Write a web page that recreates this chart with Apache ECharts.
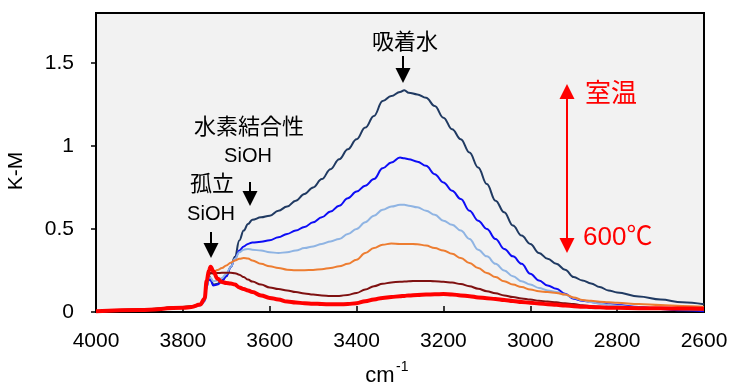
<!DOCTYPE html>
<html><head><meta charset="utf-8">
<script src="https://cdn.jsdelivr.net/npm/echarts@6/dist/echarts.min.js"></script>
<style>html,body{margin:0;padding:0;background:#fff}#c{width:731px;height:387px}</style>
</head><body><div id="c"></div>
<script>
// wavenumbers (cm-1)
const wn = [4000,3900,3800,3780,3760,3750,3745,3740,3736,3730,3720,3710,3700,3690,3680,3670,3660,3650,3640,3620,3600,3580,3560,3540,3520,3500,3480,3460,3440,3420,3400,3380,3360,3340,3320,3300,3290,3280,3260,3240,3220,3200,3180,3160,3140,3120,3100,3080,3060,3040,3020,3000,2980,2960,2940,2920,2900,2880,2860,2840,2820,2800,2750,2700,2650,2600];
// K-M values, room temperature -> 600 C
const roomTemp = [0.005,0.015,0.03,0.035,0.045, 0.07,0.16,0.22,0.2,0.165, 0.17,0.19,0.215,0.27,0.333, 0.43,0.49,0.53,0.555,0.57, 0.58,0.61,0.635,0.67,0.71, 0.75,0.8,0.86,0.92,0.98, 1.04,1.11,1.18,1.27,1.3, 1.325,1.335,1.32,1.31,1.29, 1.24,1.17,1.1,1.04,0.96, 0.87,0.77,0.67,0.6,0.52, 0.46,0.41,0.355,0.32,0.29, 0.255,0.21,0.19,0.172,0.15, 0.13,0.118,0.093,0.075,0.058, 0.046];
const step1 = [0.003,0.01,0.025,0.03,0.04, 0.065,0.15,0.2,0.19,0.16, 0.165,0.185,0.215,0.27,0.32, 0.37,0.395,0.41,0.418,0.423, 0.432,0.45,0.47,0.49,0.512, 0.54,0.57,0.605,0.64,0.685, 0.725,0.76,0.8,0.865,0.9, 0.93,0.925,0.92,0.905,0.88, 0.83,0.78,0.73,0.68,0.61, 0.55,0.5,0.44,0.38,0.335, 0.29,0.23,0.19,0.16,0.14, 0.11,0.08,0.068,0.06,0.053, 0.047,0.042,0.03,0.018,0.01, 0.004];
const step2 = [0.003,0.01,0.025,0.03,0.04, 0.07,0.16,0.21,0.205,0.185, 0.19,0.205,0.23,0.27,0.32, 0.36,0.375,0.38,0.375,0.37, 0.36,0.355,0.36,0.37,0.385, 0.395,0.41,0.425,0.44,0.47, 0.5,0.54,0.58,0.615,0.635, 0.645,0.645,0.64,0.63,0.61, 0.585,0.55,0.525,0.49,0.44, 0.375,0.335,0.29,0.25,0.215, 0.185,0.165,0.145,0.13,0.12, 0.105,0.085,0.07,0.06,0.05, 0.043,0.037,0.027,0.02,0.015, 0.012];
const step3 = [0.005,0.015,0.03,0.035,0.05, 0.08,0.17,0.225,0.235,0.24, 0.253,0.265,0.28,0.297,0.31, 0.32,0.325,0.322,0.31,0.29, 0.275,0.265,0.255,0.252,0.252, 0.253,0.258,0.265,0.275,0.29, 0.315,0.355,0.385,0.405,0.412, 0.41,0.41,0.41,0.408,0.4, 0.385,0.37,0.35,0.325,0.295, 0.265,0.235,0.21,0.185,0.165, 0.15,0.135,0.125,0.12,0.115, 0.105,0.088,0.072,0.067,0.062, 0.058,0.055,0.048,0.042,0.036, 0.032];
const step4 = [0.005,0.015,0.028,0.033,0.045, 0.075,0.17,0.225,0.235,0.232, 0.235,0.236,0.236,0.236,0.234, 0.225,0.21,0.195,0.183,0.165, 0.148,0.138,0.13,0.12,0.112, 0.105,0.1,0.097,0.097,0.103, 0.115,0.135,0.155,0.17,0.178, 0.182,0.183,0.185,0.187,0.187, 0.185,0.182,0.177,0.168,0.155, 0.14,0.125,0.113,0.1,0.09, 0.082,0.075,0.068,0.063,0.058, 0.052,0.048,0.04,0.035,0.03, 0.027,0.025,0.021,0.018,0.016, 0.015];
const temp600 = [0.005,0.012,0.025,0.03,0.045, 0.08,0.19,0.25,0.273,0.245, 0.2,0.18,0.175,0.172,0.165, 0.148,0.138,0.13,0.12,0.1, 0.085,0.075,0.063,0.057,0.053, 0.05,0.048,0.046,0.046,0.048, 0.053,0.065,0.075,0.085,0.09, 0.095,0.097,0.1,0.103,0.105, 0.107,0.108,0.106,0.1,0.095, 0.088,0.083,0.078,0.072,0.066, 0.06,0.056,0.051,0.047,0.043, 0.039,0.035,0.032,0.03,0.028, 0.026,0.025,0.023,0.022,0.021, 0.02];

const seriesNames = ['室温','step1','step2','step3','step4','600℃'];
const seriesValues = [roomTemp, step1, step2, step3, step4, temp600];
const seriesColors = ['#203a62','#0d0df5','#8fb4e3','#ed7d31','#7f1111','#ff0000'];
const seriesWidths = [2, 2, 2, 2, 2, 4];
const yTicks = [0, 0.5, 1, 1.5];

const chart = echarts.init(document.getElementById('c'), null, {renderer:'canvas'});
const latin = 'Liberation Sans, Arial, sans-serif';
const cjk = 'Noto Sans CJK JP, sans-serif';

function arrow(x, y1, y2, color, up) {
  const hw = 7.5, hh = 15;
  const pts = up ? [[x, y1], [x-hw, y1+hh], [x+hw, y1+hh]] : [[x-hw, y2-hh], [x+hw, y2-hh], [x, y2]];
  return [
    {type:'line', shape:{x1:x, y1: up ? y1+hh-2 : y1, x2:x, y2: up ? y2 : y2-hh+2}, style:{stroke:color, lineWidth:2}, z:100},
    {type:'polygon', shape:{points:pts}, style:{fill:color}, z:100}
  ];
}
function label(text, x, y, size, color, font) {
  return {type:'text', x:x, y:y, z:100, style:{text:text, fill:color, font: size + 'px ' + font, align:'center', verticalAlign:'middle'}};
}

const graphics = [].concat(
  [label('吸着水', 405, 41, 22, '#000', cjk)],
  arrow(403, 56, 83, '#000', false),
  [label('水素結合性', 249, 126, 22, '#000', cjk), label('SiOH', 248, 156, 20, '#000', latin)],
  arrow(250, 182, 206, '#000', false),
  [label('孤立', 212, 183, 22, '#000', cjk), label('SiOH', 211, 214, 20, '#000', latin)],
  arrow(211, 232, 258, '#000', false),
  arrow(567, 84, 100, '#ff0000', true),
  [{type:'line', shape:{x1:567, y1:98, x2:567, y2:240}, style:{stroke:'#ff0000', lineWidth:2}, z:100}],
  arrow(567, 236, 253, '#ff0000', false),
  [label('室温', 611, 92, 26, '#ff0000', cjk)],
  [{type:'text', x:583, y:238, z:100, style:{text:'600℃', fill:'#ff0000', font:'26px ' + latin + ', Noto Sans CJK JP', align:'left', verticalAlign:'middle'}}],
  [{type:'text', x:16, y:171, rotation:Math.PI/2, z:100, style:{text:'K-M', fill:'#000', font:'21px ' + latin, align:'center', verticalAlign:'middle'}}],
  [label('cm', 380, 376, 22, '#000', latin),
   {type:'text', x:396, y:367, z:100, style:{text:'-1', fill:'#000', font:'14px ' + latin, align:'left', verticalAlign:'middle'}}]
);

chart.setOption({
  animation:false,
  backgroundColor:'#ffffff',
  grid:{left:96, right:27, top:13, bottom:75, show:true, backgroundColor:'#f2f2f2', borderColor:'#000', borderWidth:2, containLabel:false, outerBoundsMode:'none'},
  xAxis:{
    type:'value', inverse:true, min:2600, max:4000, interval:200,
    axisLine:{lineStyle:{color:'#000', width:2}},
    axisTick:{show:true, inside:true, length:6, lineStyle:{color:'#000', width:1.5}},
    axisLabel:{color:'#000', fontSize:21, fontFamily:latin, margin:19, formatter:(v) => String(v)},
    splitLine:{show:false}
  },
  yAxis:{
    type:'value', min:0, max:1.8, interval:0.5,
    axisLine:{show:true, lineStyle:{color:'#000', width:2}},
    axisTick:{show:true, inside:false, length:5, customValues:yTicks, lineStyle:{color:'#000', width:1.5}},
    axisLabel:{color:'#000', fontSize:21, fontFamily:latin, margin:22, customValues:yTicks, formatter:(v) => String(v)},
    splitLine:{show:false}
  },
  graphic:graphics,
  series: seriesValues.map((vals, k) => ({
    name: seriesNames[k], type:'line', showSymbol:false, symbol:'none', smooth:0.4, smoothMonotone:'x',
    data: wn.map((x, i) => [x, vals[i]]),
    lineStyle:{color:seriesColors[k], width:seriesWidths[k]},
    itemStyle:{color:seriesColors[k]},
    z: 2 + k
  }))
});
</script></body></html>
